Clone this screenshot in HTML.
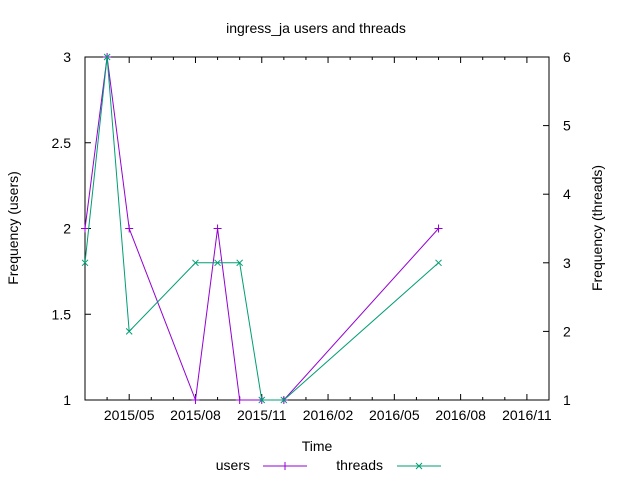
<!DOCTYPE html>
<html><head><meta charset="utf-8"><style>
body{margin:0;background:#fff}
svg{display:block;font-family:"Liberation Sans",sans-serif;font-size:14px}
</style></head><body>
<svg id="chart" width="640" height="480">
<text x="316" y="33" text-anchor="middle">ingress_ja users and threads</text>
<text transform="translate(18,228) rotate(-90)" text-anchor="middle">Frequency (users)</text>
<text transform="translate(602,228) rotate(-90)" text-anchor="middle">Frequency (threads)</text>
<text x="317" y="451" text-anchor="middle">Time</text>
<g id="axes"></g>
<g id="marks"></g>
<g>
<text x="250" y="470" text-anchor="end">users</text>
<line x1="263" y1="466" x2="307" y2="466" stroke="#9400d3"/>
<path d="M285,462V470M281,466H289" stroke="#9400d3"/>
<text x="383" y="470" text-anchor="end">threads</text>
<line x1="397" y1="466" x2="441" y2="466" stroke="#009e73"/>
<path d="M416,463L422,469M416,469L422,463" stroke="#009e73"/>
</g>
</svg>
<script>
// month index from 2015/03
const months = [0,1,2,5,6,7,8,9,16];
const users = [2,3,2,1,2,1,1,1,2];
const threads = [3,6,2,3,3,3,1,1,3];
const yTicks = [1,1.5,2,2.5,3];
const y2Ticks = [1,2,3,4,5,6];
const xTickMonths = [2,5,8,11,14,17,20];
const xTickLabels = ["2015/05","2015/08","2015/11","2016/02","2016/05","2016/08","2016/11"];

const L=85,R=549,T=57,B=400;
const xs=m=>L+m*(R-L)/21;
const ys=v=>B-(v-1)*(B-T)/2;
const y2s=v=>B-(v-1)*(B-T)/5;
const NS="http://www.w3.org/2000/svg";
const axes=document.getElementById('axes'), marks=document.getElementById('marks');
function mk(tag,attrs,parent){const e=document.createElementNS(NS,tag);for(const k in attrs)e.setAttribute(k,attrs[k]);parent.appendChild(e);return e;}
const frame=mk('rect',{x:L,y:T,width:R-L,height:B-T,fill:'none',stroke:'#000'},axes);


yTicks.forEach(v=>{const y=ys(v);
 const t=mk('path',{d:`M${L},${y}h6`,stroke:'#000'},axes);
 
 
 const tx=mk('text',{x:L-14,y:y+5,'text-anchor':'end'},axes);tx.textContent=String(v);
 
 });
y2Ticks.forEach(v=>{const y=y2s(v);
 const t=mk('path',{d:`M${R},${y}h-6`,stroke:'#000'},axes);
 
 
 const tx=mk('text',{x:R+14,y:y+5},axes);tx.textContent=String(v);
 
 });
for(let m=1;m<21;m++){const x=xs(m);const maj=xTickMonths.includes(m);const h=maj?6:3;
 const t=mk('path',{d:`M${x},${B}v-${h}M${x},${T}v${h}`,stroke:'#000'},axes);
 
 }
xTickMonths.forEach((m,i)=>{const tx=mk('text',{x:xs(m),y:B+20,'text-anchor':'middle'},axes);tx.textContent=xTickLabels[i];
 
 });
function series(vals,sc,color,name,plus){
 const p=mk('polyline',{points:months.map((m,i)=>xs(m)+','+sc(vals[i])).join(' '),fill:'none',stroke:color},marks);
 
 
 months.forEach((m,i)=>{const x=xs(m),y=sc(vals[i]);
  const d=plus?`M${x},${y-4}V${y+4}M${x-4},${y}H${x+4}`:`M${x-3},${y-3}L${x+3},${y+3}M${x-3},${y+3}L${x+3},${y-3}`;
  const e=mk('path',{d,stroke:color},marks);
  
  });
}
series(users,ys,'#9400d3','users',true);
series(threads,y2s,'#009e73','threads',false);
</script>
</body></html>
